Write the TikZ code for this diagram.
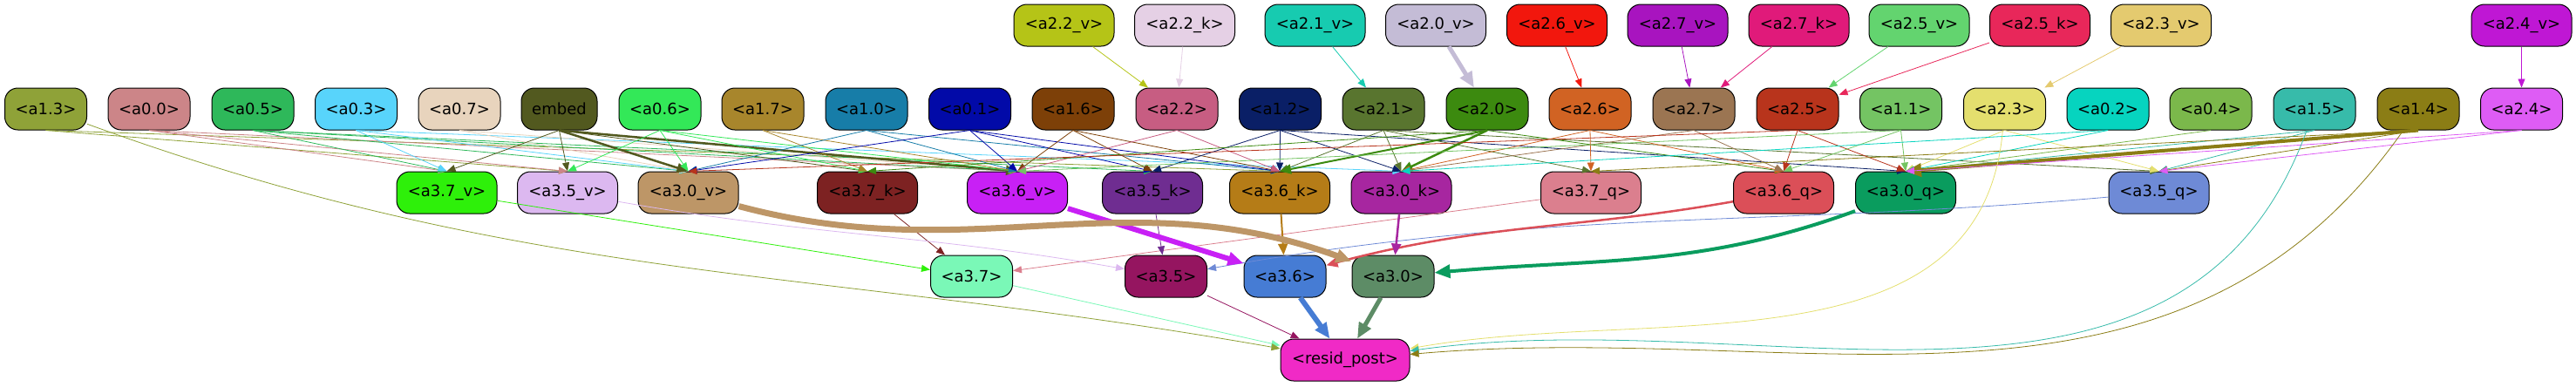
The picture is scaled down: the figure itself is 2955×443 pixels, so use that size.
\documentclass[tikz,border=0pt]{standalone}
\usepackage{fontspec}
\setmainfont{DejaVu Sans}
\usetikzlibrary{arrows.meta}

% node colours
\definecolor{cA22v}{HTML}{B5C417}
\definecolor{cA22k}{HTML}{E5D0E5}
\definecolor{cA21v}{HTML}{17CBB0}
\definecolor{cA20v}{HTML}{C4BCD6}
\definecolor{cA26v}{HTML}{F2170D}
\definecolor{cA27v}{HTML}{A814BF}
\definecolor{cA27k}{HTML}{E01A7A}
\definecolor{cA25v}{HTML}{63D46F}
\definecolor{cA25k}{HTML}{E8275A}
\definecolor{cA23v}{HTML}{E4CA6F}
\definecolor{cA24v}{HTML}{BF17D4}
\definecolor{cA13}{HTML}{8FA238}
\definecolor{cA00}{HTML}{CC8588}
\definecolor{cA05}{HTML}{2EB85A}
\definecolor{cA03}{HTML}{58D4FB}
\definecolor{cA07}{HTML}{E8D4BD}
\definecolor{cEmbed}{HTML}{52591F}
\definecolor{cA06}{HTML}{33E858}
\definecolor{cA17}{HTML}{A8862C}
\definecolor{cA10}{HTML}{177DA8}
\definecolor{cA01}{HTML}{020AA8}
\definecolor{cA16}{HTML}{7D4008}
\definecolor{cA22}{HTML}{C75D82}
\definecolor{cA12}{HTML}{0A1F66}
\definecolor{cA21}{HTML}{59752F}
\definecolor{cA20}{HTML}{3C8A0F}
\definecolor{cA26}{HTML}{D16323}
\definecolor{cA27}{HTML}{9B7552}
\definecolor{cA25}{HTML}{B8341C}
\definecolor{cA11}{HTML}{74C463}
\definecolor{cA23}{HTML}{E4DF6E}
\definecolor{cA02}{HTML}{06D4BF}
\definecolor{cA04}{HTML}{7BB84B}
\definecolor{cA15}{HTML}{37BBAA}
\definecolor{cA14}{HTML}{8B7D15}
\definecolor{cA24}{HTML}{DE5CF5}
\definecolor{cA37v}{HTML}{2EF00A}
\definecolor{cA35v}{HTML}{DCB8F0}
\definecolor{cA30v}{HTML}{BD9667}
\definecolor{cA37k}{HTML}{7D2222}
\definecolor{cA36v}{HTML}{C820F5}
\definecolor{cA35k}{HTML}{6F2D91}
\definecolor{cA36k}{HTML}{B57C17}
\definecolor{cA30k}{HTML}{A726A0}
\definecolor{cA37q}{HTML}{DB7F8E}
\definecolor{cA36q}{HTML}{DB4F58}
\definecolor{cA30q}{HTML}{0A9C5E}
\definecolor{cA35q}{HTML}{6E8AD6}
\definecolor{cA37}{HTML}{7AF8B7}
\definecolor{cA35}{HTML}{951560}
\definecolor{cA36}{HTML}{467CD4}
\definecolor{cA30}{HTML}{5D8C66}
\definecolor{cResid}{HTML}{F02AC6}

\begin{document}
\begin{tikzpicture}[x=0.25pt, y=-0.25pt]
    % Define styles
    \tikzset{
        unit/.style={
            draw,
            line width=0.25pt,
            rounded corners=3.75pt,
            minimum width=23.5pt,
            minimum height=12pt,
            inner sep=0.5pt,
            font=\fontsize{4.5}{5}\selectfont
        },
        wideunit/.style={
            unit,
            minimum width=28.75pt
        },
        arrow/.style={
            -{Triangle[length=2.5pt,width=2pt]},
            line width=0.2pt
        },
        midarrow/.style={
            -{Triangle[length=3.25pt,width=2.75pt]},
            line width=0.625pt
        },
        fatarrow/.style={
            -{Triangle[length=4.5pt,width=3.75pt]},
            line width=1.25pt
        }
    }
    \useasboundingbox (0,0) rectangle (2955,443);

    % Head inputs
    \node[wideunit, fill=cA22v] (a22v) at (1220.5,29) {<a2.2\_v>};
    \node[wideunit, fill=cA22k] (a22k) at (1359,29) {<a2.2\_k>};
    \node[wideunit, fill=cA21v] (a21v) at (1508.5,29) {<a2.1\_v>};
    \node[wideunit, fill=cA20v] (a20v) at (1647,29) {<a2.0\_v>};
    \node[wideunit, fill=cA26v] (a26v) at (1786,29) {<a2.6\_v>};
    \node[wideunit, fill=cA27v] (a27v) at (1924.5,29) {<a2.7\_v>};
    \node[wideunit, fill=cA27k] (a27k) at (2063.5,29) {<a2.7\_k>};
    \node[wideunit, fill=cA25v] (a25v) at (2201.5,29) {<a2.5\_v>};
    \node[wideunit, fill=cA25k] (a25k) at (2340,29) {<a2.5\_k>};
    \node[wideunit, fill=cA23v] (a23v) at (2479,29) {<a2.3\_v>};
    \node[wideunit, fill=cA24v] (a24v) at (2892.5,29) {<a2.4\_v>};

    % Heads and embedding
    \node[unit, fill=cA13] (a13) at (52.5,125) {<a1.3>};
    \node[unit, fill=cA00] (a00) at (171,125) {<a0.0>};
    \node[unit, fill=cA05] (a05) at (290,125) {<a0.5>};
    \node[unit, fill=cA03] (a03) at (408.5,125) {<a0.3>};
    \node[unit, fill=cA07] (a07) at (527,125) {<a0.7>};
    \node[unit, fill=cEmbed, minimum width=21.75pt] (embed) at (641.5,125) {embed};
    \node[unit, fill=cA06] (a06) at (757,125) {<a0.6>};
    \node[unit, fill=cA17] (a17) at (875,125) {<a1.7>};
    \node[unit, fill=cA10] (a10) at (994,125) {<a1.0>};
    \node[unit, fill=cA01] (a01) at (1112.5,125) {<a0.1>};
    \node[unit, fill=cA16] (a16) at (1231,125) {<a1.6>};
    \node[unit, fill=cA22] (a22) at (1350,125) {<a2.2>};
    \node[unit, fill=cA12] (a12) at (1468.5,125) {<a1.2>};
    \node[unit, fill=cA21] (a21) at (1587,125) {<a2.1>};
    \node[unit, fill=cA20] (a20) at (1706,125) {<a2.0>};
    \node[unit, fill=cA26] (a26) at (1824,125) {<a2.6>};
    \node[unit, fill=cA27] (a27) at (1943,125) {<a2.7>};
    \node[unit, fill=cA25] (a25) at (2062,125) {<a2.5>};
    \node[unit, fill=cA11] (a11) at (2180.5,125) {<a1.1>};
    \node[unit, fill=cA23] (a23) at (2299.5,125) {<a2.3>};
    \node[unit, fill=cA02] (a02) at (2418,125) {<a0.2>};
    \node[unit, fill=cA04] (a04) at (2536,125) {<a0.4>};
    \node[unit, fill=cA15] (a15) at (2655,125) {<a1.5>};
    \node[unit, fill=cA14] (a14) at (2774,125) {<a1.4>};
    \node[unit, fill=cA24] (a24) at (2892.5,125) {<a2.4>};

    % Layer 3 q/k/v
    \node[wideunit, fill=cA37v] (a37v) at (512.5,221) {<a3.7\_v>};
    \node[wideunit, fill=cA35v] (a35v) at (651,221) {<a3.5\_v>};
    \node[wideunit, fill=cA30v] (a30v) at (789.5,221) {<a3.0\_v>};
    \node[wideunit, fill=cA37k] (a37k) at (995,221) {<a3.7\_k>};
    \node[wideunit, fill=cA36v] (a36v) at (1167,221) {<a3.6\_v>};
    \node[wideunit, fill=cA35k] (a35k) at (1322,221) {<a3.5\_k>};
    \node[wideunit, fill=cA36k] (a36k) at (1468,221) {<a3.6\_k>};
    \node[wideunit, fill=cA30k] (a30k) at (1607.5,221) {<a3.0\_k>};
    \node[wideunit, fill=cA37q] (a37q) at (1825,221) {<a3.7\_q>};
    \node[wideunit, fill=cA36q] (a36q) at (2046,221) {<a3.6\_q>};
    \node[wideunit, fill=cA30q] (a30q) at (2186,221) {<a3.0\_q>};
    \node[wideunit, fill=cA35q] (a35q) at (2476.5,221) {<a3.5\_q>};

    % Layer 3 heads
    \node[unit, fill=cA37] (a37) at (1114.5,317) {<a3.7>};
    \node[unit, fill=cA35] (a35) at (1337.5,317) {<a3.5>};
    \node[unit, fill=cA36] (a36) at (1474,317) {<a3.6>};
    \node[unit, fill=cA30] (a30) at (1598,317) {<a3.0>};

    % Output
    \node[unit, fill=cResid, minimum width=37pt] (resid) at (1543,413) {<resid\_post>};

    % Connect inputs to layer 2 heads
    \draw[arrow, cA22v] (a22v) -- (a22);
    \draw[arrow, cA22k] (a22k) -- (a22);
    \draw[arrow, cA21v] (a21v) -- (a21);
    \draw[fatarrow, cA20v] (a20v) -- (a20);
    \draw[arrow, cA26v] (a26v) -- (a26);
    \draw[arrow, cA27v] (a27v) -- (a27);
    \draw[arrow, cA27k] (a27k) -- (a27);
    \draw[arrow, cA25v] (a25v) -- (a25);
    \draw[arrow, cA25k] (a25k) -- (a25);
    \draw[arrow, cA23v] (a23v) -- (a23);
    \draw[arrow, cA24v] (a24v) -- (a24);

    % Connect heads to layer 3 q/k/v
    \draw[arrow, cA13] (a13.south) -- (a35v.north);
    \draw[arrow, cA13] (a13.south) -- (a36k.north);
    \draw[arrow, cA00] (a00.south) -- (a37v.north);
    \draw[arrow, cA00] (a00.south) -- (a35v.north);
    \draw[arrow, cA00] (a00.south) -- (a36v.north);
    \draw[arrow, cA05] (a05.south) -- (a37v.north);
    \draw[arrow, cA05] (a05.south) -- (a30v.north);
    \draw[arrow, cA05] (a05.south) -- (a36v.north);
    \draw[arrow, cA05] (a05.south) -- (a35k.north);
    \draw[arrow, cA03] (a03.south) -- (a37v.north);
    \draw[arrow, cA03] (a03.south) -- (a30v.north);
    \draw[arrow, cA03] (a03.south) -- (a30k.north);
    \draw[arrow, cA07] (a07.south) -- (a30v.north);
    \draw[arrow, cA07] (a07.south) -- (a36v.north);
    \draw[arrow, cEmbed] (embed.south) -- (a37v.north);
    \draw[arrow, cEmbed] (embed.south) -- (a35v.north);
    \draw[midarrow, cEmbed] (embed.south) -- (a30v.north);
    \draw[arrow, cEmbed] (embed.south) -- (a37k.north);
    \draw[midarrow, cEmbed] (embed.south) -- (a36v.north);
    \draw[arrow, cA06] (a06.south) -- (a35v.north);
    \draw[arrow, cA06] (a06.south) -- (a30v.north);
    \draw[arrow, cA06] (a06.south) -- (a37k.north);
    \draw[arrow, cA06] (a06.south) -- (a36v.north);
    \draw[arrow, cA17] (a17.south) -- (a37k.north);
    \draw[arrow, cA17] (a17.south) -- (a36v.north);
    \draw[arrow, cA10] (a10.south) -- (a30v.north);
    \draw[arrow, cA10] (a10.south) -- (a36v.north);
    \draw[arrow, cA10] (a10.south) -- (a36k.north);
    \draw[arrow, cA01] (a01.south) -- (a30v.north);
    \draw[arrow, cA01] (a01.south) -- (a36v.north);
    \draw[arrow, cA01] (a01.south) -- (a35k.north);
    \draw[arrow, cA01] (a01.south) -- (a36k.north);
    \draw[arrow, cA16] (a16.south) -- (a36v.north);
    \draw[arrow, cA16] (a16.south) -- (a35k.north);
    \draw[arrow, cA16] (a16.south) -- (a36k.north);
    \draw[arrow, cA22] (a22.south) -- (a36v.north);
    \draw[arrow, cA22] (a22.south) -- (a36k.north);
    \draw[arrow, cA12] (a12.south) -- (a35k.north);
    \draw[arrow, cA12] (a12.south) -- (a36k.north);
    \draw[arrow, cA12] (a12.south) -- (a30k.north);
    \draw[arrow, cA12] (a12.south) -- (a30q.north);
    \draw[arrow, cA21] (a21.south) -- (a36k.north);
    \draw[arrow, cA21] (a21.south) -- (a30k.north);
    \draw[arrow, cA21] (a21.south) -- (a37q.north);
    \draw[arrow, cA21] (a21.south) -- (a35q.north);
    \draw[arrow, cA20] (a20.south) -- (a37k.north);
    \draw[midarrow, cA20, line width=0.5pt] (a20.south) -- (a36k.north);
    \draw[midarrow, cA20] (a20.south) -- (a30k.north);
    \draw[arrow, cA20] (a20.south) -- (a36q.north);
    \draw[arrow, cA26] (a26.south) -- (a30k.north);
    \draw[arrow, cA26] (a26.south) -- (a37q.north);
    \draw[arrow, cA26] (a26.south) -- (a36q.north);
    \draw[arrow, cA27] (a27.south) -- (a30k.north);
    \draw[arrow, cA27] (a27.south) -- (a36q.north);
    \draw[arrow, cA25] (a25.south) -- (a30v.north);
    \draw[arrow, cA25] (a25.south) -- (a36q.north);
    \draw[arrow, cA25] (a25.south) -- (a30q.north);
    \draw[arrow, cA11] (a11.south) -- (a36v.north);
    \draw[arrow, cA11] (a11.south) -- (a36q.north);
    \draw[arrow, cA11] (a11.south) -- (a30q.north);
    \draw[arrow, cA23] (a23.south) -- (a30q.north);
    \draw[arrow, cA23] (a23.south) -- (a35q.north);
    \draw[arrow, cA02] (a02.south) -- (a30k.north);
    \draw[arrow, cA02] (a02.south) -- (a30q.north);
    \draw[arrow, cA04] (a04.south) -- (a30q.north);
    \draw[arrow, cA15] (a15.south) -- (a30q.north);
    \draw[arrow, cA15] (a15.south) -- (a35q.north);
    \draw[arrow, cA14] (a14.south) -- (a37q.north);
    \draw[fatarrow, cA14, line width=1pt] (a14.south) -- (a30q.north);
    \draw[arrow, cA14] (a14.south) -- (a35q.north);
    \draw[arrow, cA24] (a24.south) -- (a30q.north);
    \draw[arrow, cA24] (a24.south) -- (a35q.north);

    % Connect q/k/v to layer 3 heads
    \draw[arrow, cA37v] (a37v) -- (a37);
    \draw[arrow, cA37k] (a37k) -- (a37);
    \draw[arrow, cA37q] (a37q) -- (a37);
    \draw[arrow, cA35v] (a35v) to[out=-10, in=170] (a35);
    \draw[arrow, cA35k] (a35k) -- (a35);
    \draw[arrow, cA35q] (a35q) to[out=-175, in=10] (a35);
    \draw[fatarrow, cA36v, line width=1.5pt] (a36v) -- (a36);
    \draw[midarrow, cA36k, line width=0.5pt] (a36k) -- (a36);
    \draw[midarrow, cA36q] (a36q) to[out=-170, in=15] (a36);
    \draw[fatarrow, cA30v, line width=1.75pt] (a30v) to[out=-15, in=160] (a30);
    \draw[midarrow, cA30k] (a30k) -- (a30);
    \draw[fatarrow, cA30q, line width=1pt] (a30q) to[out=-160, in=5] (a30);

    % Connect to residual stream
    \draw[arrow, cA37] (a37) -- (resid);
    \draw[arrow, cA35] (a35) -- (resid);
    \draw[fatarrow, cA36, line width=1.5pt] (a36) -- (resid);
    \draw[fatarrow, cA30, line width=1.25pt] (a30) -- (resid);
    \draw[arrow, cA13] (a13) to[out=-20, in=170] (resid);
    \draw[arrow, cA23] (a23) to[out=-95, in=10] (resid);
    \draw[arrow, cA15] (a15) to[out=-110, in=8] (resid);
    \draw[arrow, cA14] (a14) to[out=-125, in=5] (resid);

\end{tikzpicture}
\end{document}
